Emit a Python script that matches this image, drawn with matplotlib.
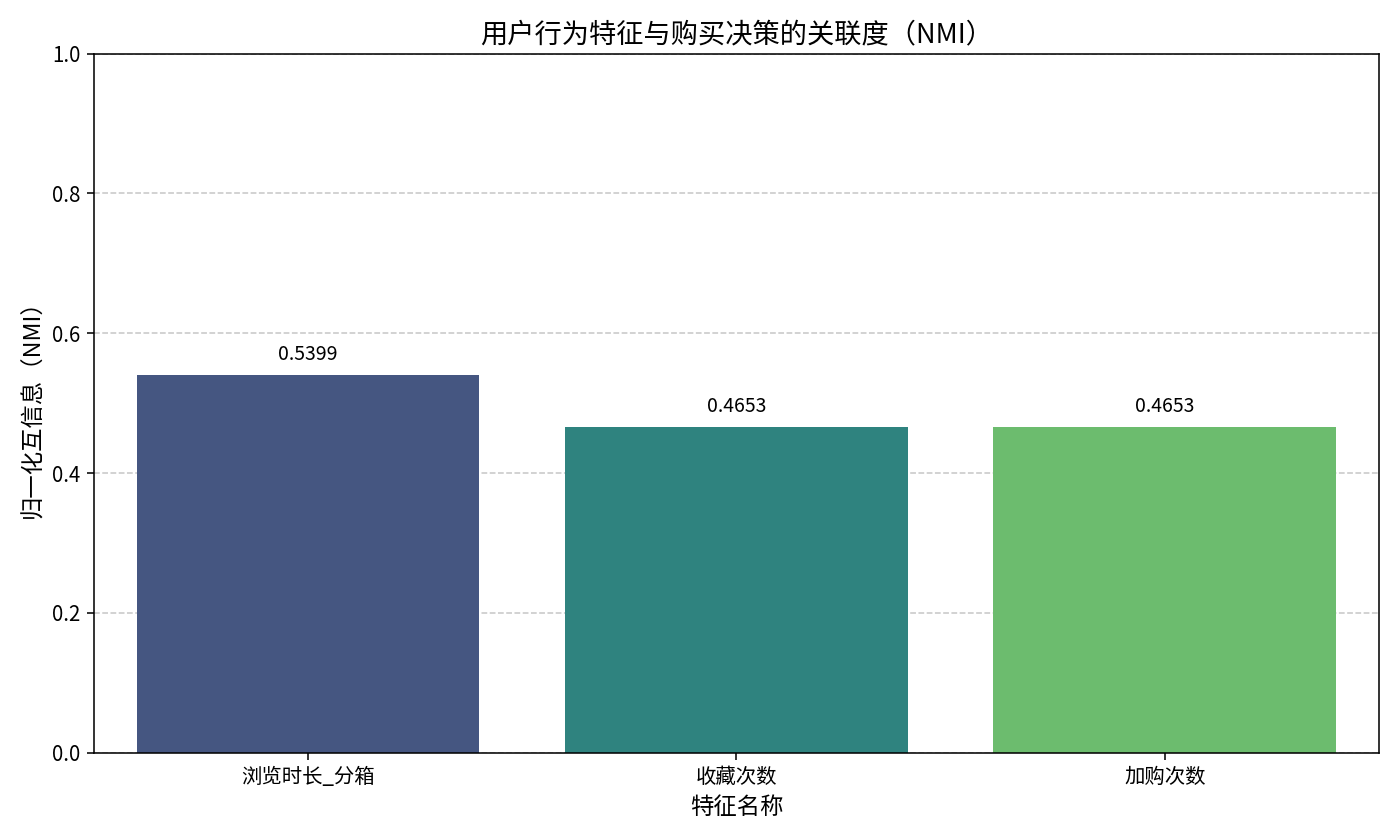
import matplotlib
matplotlib.use('Agg')
import matplotlib.pyplot as plt
import seaborn as sns
import pandas as pd

features = ['浏览时长_分箱', '收藏次数', '加购次数']
nmi = [0.5399, 0.4653, 0.4653]

plt.rcParams['font.family'] = ['Noto Sans CJK SC', 'DejaVu Sans']
plt.rcParams['axes.unicode_minus'] = False

df = pd.DataFrame({'特征': features, 'NMI': nmi})

fig, ax = plt.subplots(figsize=(10, 6), dpi=140)
sns.barplot(data=df, x='特征', y='NMI', hue='特征', palette='viridis', legend=False, ax=ax)

# value labels above bars
for i, v in enumerate(nmi):
    ax.text(i, v + 0.015, f'{v:.4f}', ha='center', va='bottom', fontsize=10)

ax.set_title('用户行为特征与购买决策的关联度（NMI）', fontsize=14)
ax.set_xlabel('特征名称', fontsize=12)
ax.set_ylabel('归一化互信息（NMI）', fontsize=12)
ax.set_ylim(0, 1)
ax.tick_params(labelsize=10.5)
ax.grid(axis='y', linestyle='--', alpha=0.7)
ax.set_axisbelow(True)
plt.tight_layout()
plt.savefig('out.png')
